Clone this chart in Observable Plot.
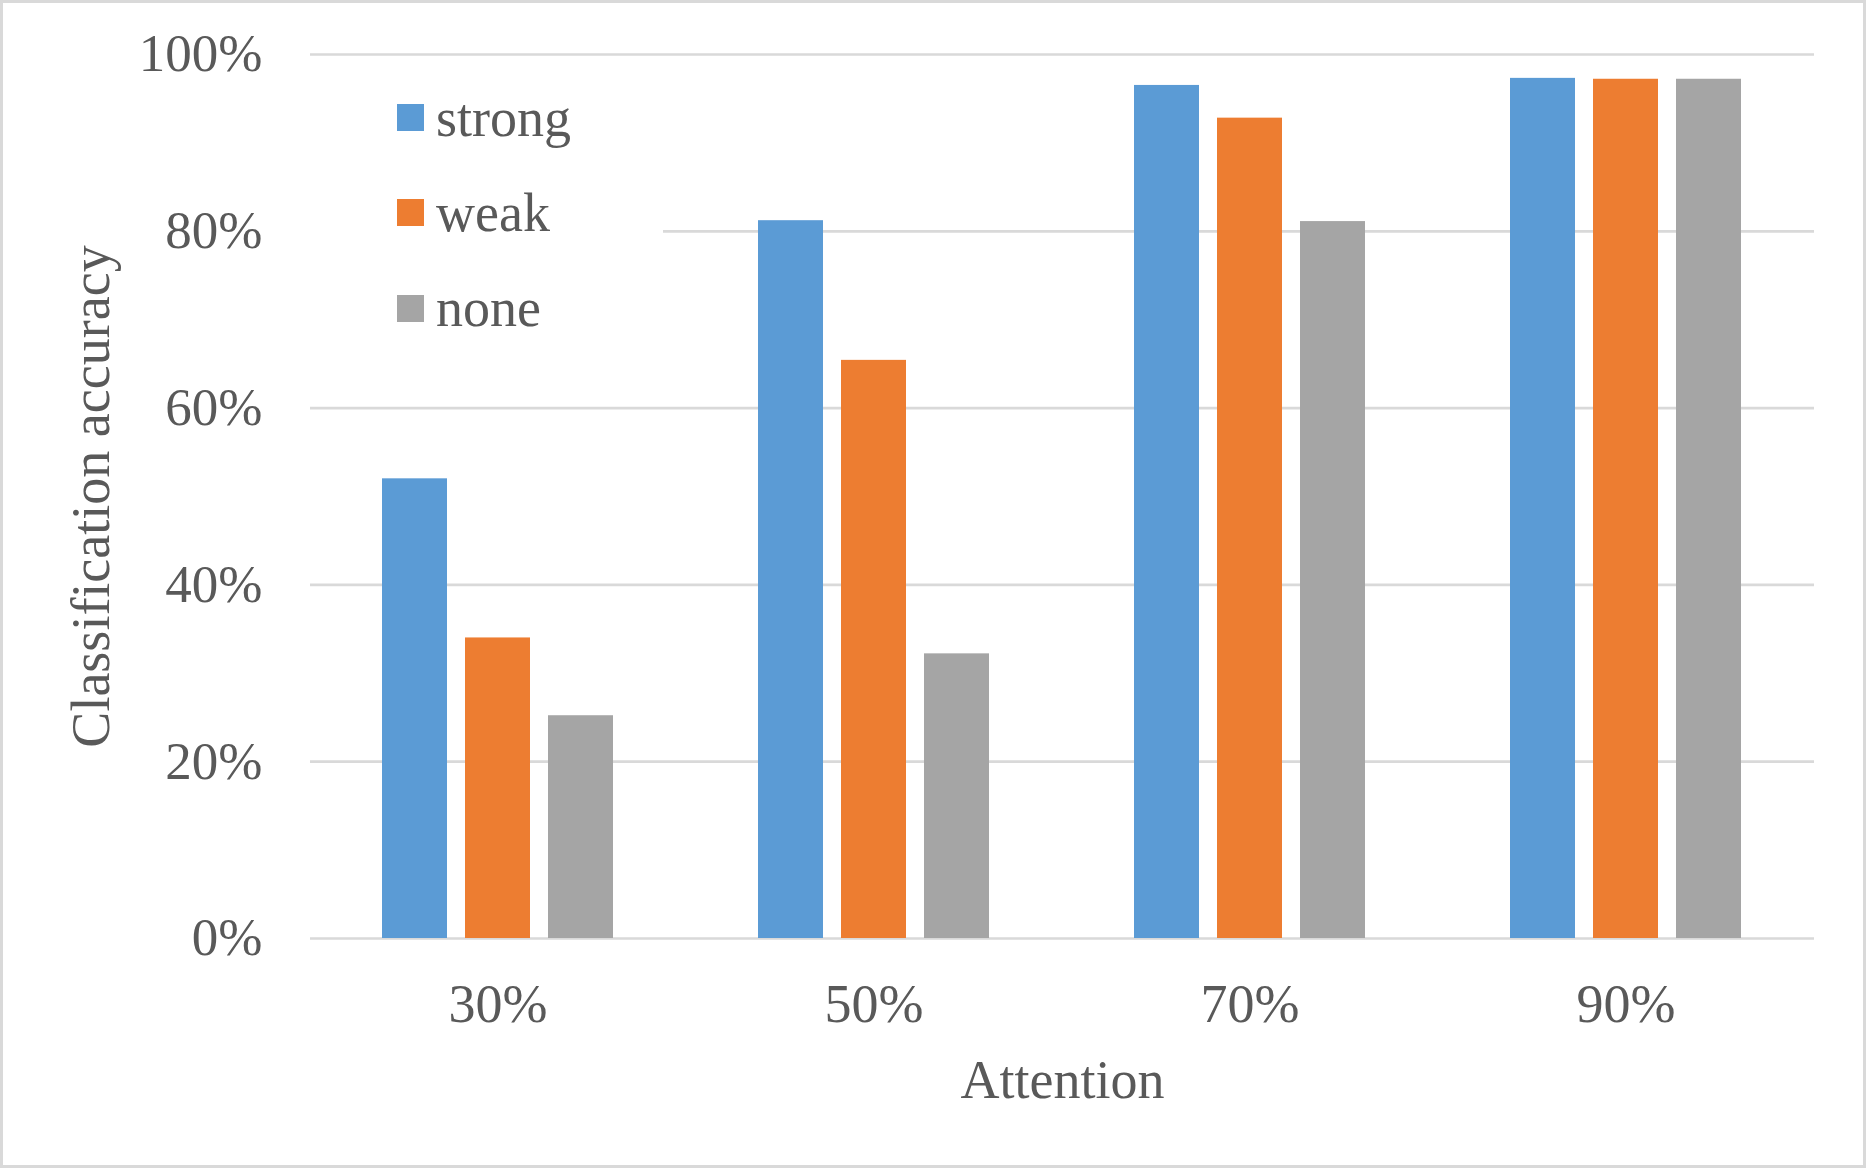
<!DOCTYPE html>
<html>
<head>
<meta charset="utf-8">
<script src="https://cdn.jsdelivr.net/npm/d3@7"></script>
<script src="https://cdn.jsdelivr.net/npm/@observablehq/plot@0.6"></script>
<style>
html, body { margin: 0; padding: 0; background: #fff; }
#wrap { position: relative; width: 1866px; height: 1168px; overflow: hidden; font-family: "Liberation Serif", "Times New Roman", serif; color: #595959; background: #fff; }
#bg, #fg { position: absolute; left: 0; top: 0; }
#border { position: absolute; left: 0; top: 0; width: 1866px; height: 1168px; box-sizing: border-box; border: 3px solid #d9d9d9; pointer-events: none; }
#legend { position: absolute; left: 300px; top: 70px; width: 363px; background: #fff; padding-left: 97px; box-sizing: border-box; }
.item { display: flex; align-items: center; height: 95.33px; font-size: 54px; line-height: 54px; }
.sw { width: 27px; height: 27px; margin-right: 12px; flex: none; }
</style>
</head>
<body>
<div id="wrap"><div id="bg"></div><div id="fg"></div><div id="legend"></div><div id="border"></div></div>
<script>
// Data
const attention = ["30%", "50%", "70%", "90%"];
const series = ["strong", "weak", "none"];
const strong = [0.520, 0.812, 0.965, 0.973];
const weak = [0.340, 0.654, 0.928, 0.972];
const none = [0.252, 0.322, 0.811, 0.972];
const colors = ["#5B9BD5", "#ED7D31", "#A5A5A5"];
const yTicks = [0, 0.2, 0.4, 0.6, 0.8, 1.0];
const xTitle = "Attention";
const yTitle = "Classification accuracy";

const valuesBySeries = {strong, weak, none};
const rows = [];
attention.forEach((a, i) => {
  series.forEach(s => rows.push({attention: a, series: s, value: valuesBySeries[s][i]}));
});

const frame = {
  width: 1866,
  height: 1168,
  marginLeft: 310,
  marginRight: 52,
  marginTop: 54,
  marginBottom: 230
};
const font = '"Liberation Serif", "Times New Roman", serif';

// Background layer: gridlines, y axis and axis titles
const bg = Plot.plot({
  ...frame,
  style: {fontFamily: font, color: "#595959", background: "#fff"},
  y: {domain: [0, 1]},
  marks: [
    Plot.ruleY(yTicks, {stroke: "#d9d9d9", strokeWidth: 2.7}),
    Plot.axisY(yTicks, {tickSize: 0, tickPadding: 48, tickFormat: d3.format(".0%"), fontSize: 53, label: null}),
    Plot.text([xTitle], {frameAnchor: "bottom", text: d => d, fontSize: 54, textAnchor: "middle", lineAnchor: "middle", dy: 142}),
    Plot.text([yTitle], {frameAnchor: "left", text: d => d, fontSize: 54, rotate: -90, textAnchor: "middle", lineAnchor: "middle", dx: -219})
  ]
});
document.getElementById("bg").appendChild(bg);

// Foreground layer: grouped bars (faceted by attention level)
const fg = Plot.plot({
  ...frame,
  style: {fontFamily: font, color: "#595959", background: "transparent"},
  fx: {domain: attention, paddingInner: 0.38, paddingOuter: 0.19, label: null},
  x: {domain: series, paddingInner: 0.214, paddingOuter: 0, axis: null},
  y: {domain: [0, 1], axis: null},
  color: {domain: series, range: colors},
  marks: [
    Plot.barY(rows, {fx: "attention", x: "series", y: "value", fill: "series"}),
    Plot.axisFx({anchor: "bottom", tickSize: 0, tickPadding: 45, fontSize: 54, label: null})
  ]
});
document.getElementById("fg").appendChild(fg);

const legend = document.getElementById("legend");
series.forEach((s, i) => {
  const item = document.createElement("div");
  item.className = "item";
  const sw = document.createElement("span");
  sw.className = "sw";
  sw.style.background = colors[i];
  const label = document.createElement("span");
  label.textContent = s;
  item.appendChild(sw);
  item.appendChild(label);
  legend.appendChild(item);
});
</script>
</body>
</html>
